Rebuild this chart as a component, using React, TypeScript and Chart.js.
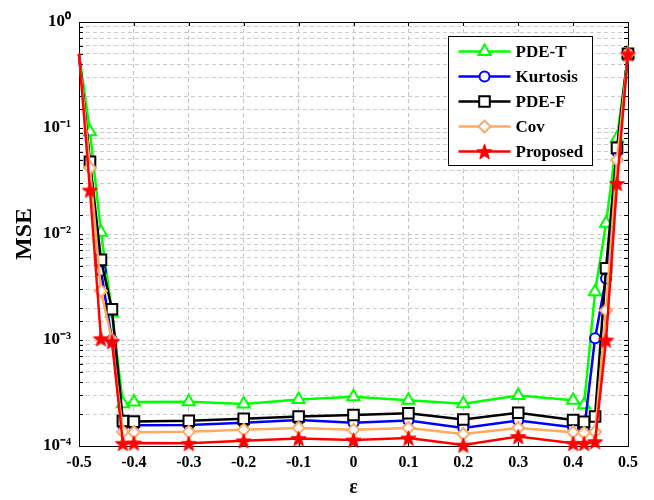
import React, { useEffect, useRef } from 'react';
import { Chart, registerables } from 'chart.js';
import { drawPoint } from 'chart.js/helpers';

Chart.register(...registerables);

const epsilon = [-0.5, -0.48, -0.46, -0.44, -0.42, -0.4, -0.3, -0.2, -0.1, 0, 0.1, 0.2, 0.3, 0.4, 0.42, 0.44, 0.46, 0.48, 0.5];
const pdeT = [0.5, 0.092, 0.0104, 0.0018, 2.5e-4, 2.6e-4, 2.62e-4, 2.49e-4, 2.75e-4, 2.92e-4, 2.7e-4, 2.5e-4, 3.0e-4, 2.7e-4, 2.45e-4, 2.86e-3, 0.0126, 0.08, 0.5];
const kurtosis = [0.5, 0.045, 0.0045, 0.001, 1.58e-4, 1.57e-4, 1.58e-4, 1.66e-4, 1.76e-4, 1.66e-4, 1.74e-4, 1.48e-4, 1.74e-4, 1.5e-4, 1.4e-4, 1.04e-3, 3.8e-3, 0.06, 0.5];
const pdeF = [0.5, 0.048, 0.0057, 0.00195, 1.72e-4, 1.7e-4, 1.73e-4, 1.81e-4, 1.9e-4, 1.96e-4, 2.04e-4, 1.78e-4, 2.06e-4, 1.76e-4, 1.69e-4, 1.9e-4, 4.75e-3, 0.065, 0.5];
const cov = [0.5, 0.042, 0.0029, 0.001, 1.36e-4, 1.35e-4, 1.36e-4, 1.42e-4, 1.48e-4, 1.42e-4, 1.48e-4, 1.3e-4, 1.48e-4, 1.35e-4, 1.33e-4, 1.36e-4, 1.9e-3, 0.05, 0.5];
const proposed = [0.5, 0.026, 0.00103, 0.00097, 1.06e-4, 1.07e-4, 1.06e-4, 1.12e-4, 1.18e-4, 1.14e-4, 1.19e-4, 1.02e-4, 1.23e-4, 1.06e-4, 1.06e-4, 1.1e-4, 1.0e-3, 0.03, 0.5];
const seriesLabels = ['PDE-T', 'Kurtosis', 'PDE-F', 'Cov', 'Proposed'];
const xTitle = 'ε';
const yTitle = 'MSE';

const FONT = "'Liberation Serif', 'Times New Roman', serif";
const SUP: Record<string, string> = { '-': '⁻', '0': '⁰', '1': '¹', '2': '²', '3': '³', '4': '⁴', '5': '⁵', '6': '⁶', '7': '⁷', '8': '⁸', '9': '⁹' };
const toSup = (s: string) => s.split('').map((c) => SUP[c] ?? c).join('');

function makeStar(size: number, color: string) {
  const c = document.createElement('canvas');
  c.width = size;
  c.height = size;
  const ctx = c.getContext('2d')!;
  const cx = size / 2;
  const cy = size / 2 + size * 0.05;
  const R = size / 2 - 0.5;
  const r = R * 0.42;
  ctx.beginPath();
  for (let i = 0; i < 10; i++) {
    const ang = -Math.PI / 2 + (i * Math.PI) / 5;
    const rad = i % 2 === 0 ? R : r;
    ctx.lineTo(cx + rad * Math.cos(ang), cy + rad * Math.sin(ang));
  }
  ctx.closePath();
  ctx.fillStyle = color;
  ctx.fill();
  ctx.strokeStyle = color;
  ctx.lineWidth = 1;
  ctx.stroke();
  return c;
}

const framePlugin = {
  id: 'frame',
  beforeDatasetsDraw(chart: any) {
    const { ctx, chartArea: a, scales } = chart;
    ctx.save();
    ctx.strokeStyle = '#000';
    ctx.lineWidth = 1;
    ctx.beginPath();
    scales.y.ticks.forEach((t: any) => {
      const y = Math.round(scales.y.getPixelForValue(t.value)) + 0.5;
      ctx.moveTo(a.left, y);
      ctx.lineTo(a.left + 4, y);
      ctx.moveTo(a.right, y);
      ctx.lineTo(a.right - 4, y);
    });
    scales.x.ticks.forEach((t: any) => {
      const x = Math.round(scales.x.getPixelForValue(t.value)) + 0.5;
      ctx.moveTo(x, a.bottom);
      ctx.lineTo(x, a.bottom - 4);
      ctx.moveTo(x, a.top);
      ctx.lineTo(x, a.top + 4);
    });
    ctx.stroke();
    ctx.strokeRect(Math.round(a.left) + 0.5, Math.round(a.top) + 0.5, Math.round(a.right - a.left), Math.round(a.bottom - a.top));
    ctx.restore();
  },
  afterDraw(chart: any) {
    const { ctx, chartArea: a } = chart;
    const bx = Math.round(a.right - 180) + 0.5;
    const by = Math.round(a.top + 14) + 0.5;
    const bw = 144;
    const bh = 129;
    ctx.save();
    ctx.fillStyle = '#fff';
    ctx.fillRect(bx, by, bw, bh);
    ctx.strokeStyle = '#000';
    ctx.lineWidth = 1;
    ctx.strokeRect(bx, by, bw, bh);
    chart.data.datasets.forEach((ds: any, i: number) => {
      const y = by + 15 + i * 25;
      ctx.strokeStyle = ds.borderColor;
      ctx.lineWidth = ds.borderWidth;
      ctx.beginPath();
      ctx.moveTo(bx + 10, y);
      ctx.lineTo(bx + 62, y);
      ctx.stroke();
      ctx.fillStyle = ds.pointBackgroundColor;
      ctx.strokeStyle = ds.pointBorderColor;
      ctx.lineWidth = ds.pointBorderWidth;
      drawPoint(ctx, { pointStyle: ds.pointStyle, radius: ds.legendRadius, rotation: 0, borderWidth: ds.pointBorderWidth }, bx + 36, y);
      ctx.fillStyle = '#000';
      ctx.font = `bold 17px ${FONT}`;
      ctx.textAlign = 'left';
      ctx.textBaseline = 'middle';
      ctx.fillText(ds.label, bx + 67, y + 1);
    });
    ctx.restore();
  },
};

export default function App() {
  const ref = useRef<HTMLCanvasElement>(null);
  useEffect(() => {
    const star = makeStar(17, '#ff0000');
    const mk = (label: string, data: number[], color: string, style: any, radius: number, order: number, fill = '#ffffff') => ({
      label,
      data: epsilon.map((x, i) => ({ x, y: data[i] })),
      borderColor: color,
      backgroundColor: fill,
      borderWidth: 2.5,
      pointStyle: style,
      pointRadius: (c: any) => (c.dataIndex === 0 ? 0 : radius),
      legendRadius: radius,
      pointBorderColor: color,
      pointBackgroundColor: fill,
      pointBorderWidth: 2,
      order,
      clip: false,
      tension: 0,
    });
    const chart = new Chart(ref.current!, {
      type: 'line',
      data: {
        datasets: [
          mk(seriesLabels[0], pdeT, '#00ff00', 'triangle', 7, 5),
          mk(seriesLabels[1], kurtosis, '#0000ff', 'circle', 5, 4),
          mk(seriesLabels[2], pdeF, '#000000', 'rect', 7.5, 3),
          mk(seriesLabels[3], cov, '#ffa860', 'rectRot', 6, 2),
          mk(seriesLabels[4], proposed, '#ff0000', star, 8, 1, '#ff0000'),
        ] as any,
      },
      options: {
        responsive: false,
        animation: false,
        devicePixelRatio: 1,
        events: [],
        layout: { padding: { left: 0, right: 26, top: 22, bottom: 0 } },
        plugins: { legend: { display: false }, tooltip: { enabled: false } },
        scales: {
          x: {
            type: 'linear',
            min: -0.5,
            max: 0.5,
            afterFit: (s: any) => { s.height = 54; },
            grid: { color: '#c4c4c4', lineWidth: 1, drawTicks: false },
            border: { display: false, dash: [4, 3] },
            ticks: {
              stepSize: 0.1,
              padding: 7,
              color: '#000',
              font: { family: FONT, size: 16, weight: 'bold' },
              callback: (v: any) => {
                const r = Math.round(Number(v) * 10) / 10;
                return r === 0 ? '0' : r.toFixed(1);
              },
            },
            title: { display: true, text: xTitle, color: '#000', font: { family: FONT, size: 20, weight: 'bold' }, padding: { top: 0, bottom: 0 } },
          },
          y: {
            type: 'logarithmic',
            min: 1e-4,
            max: 1,
            afterFit: (s: any) => { s.width = 79; },
            grid: { color: '#cccccc', lineWidth: 1, drawTicks: false },
            border: { display: false, dash: [4, 3] },
            ticks: {
              autoSkip: false,
              padding: 8,
              color: '#000',
              font: { family: FONT, size: 17, weight: 'bold' },
              callback: (v: any) => {
                const e = Math.log10(Number(v));
                if (Math.abs(e - Math.round(e)) < 1e-6) return '10' + toSup(String(Math.round(e)));
                return '';
              },
            },
            title: { display: true, text: yTitle, color: '#000', font: { family: FONT, size: 24, weight: 'bold' }, padding: { top: 10, bottom: 0 } },
          },
        },
      } as any,
      plugins: [framePlugin],
    });
    return () => chart.destroy();
  }, []);
  return (
    <div style={{ position: 'fixed', left: 0, top: 0, width: 654, height: 500, background: '#fff' }}>
      <canvas ref={ref} width={654} height={500} style={{ width: 654, height: 500 }} />
    </div>
  );
}
